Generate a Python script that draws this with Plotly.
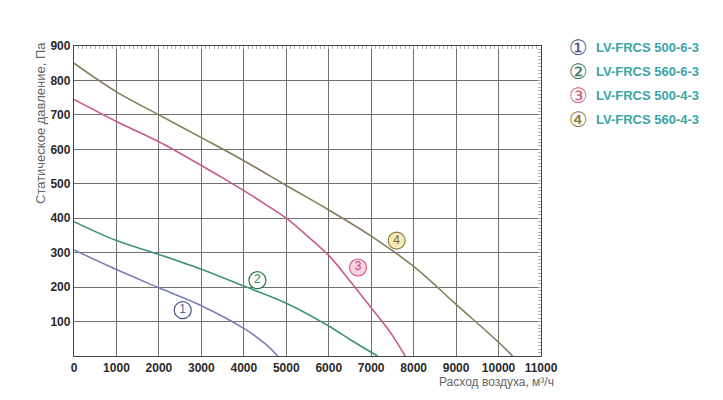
import plotly.graph_objects as go

# ---- data ----
names = ["LV-FRCS 500-6-3", "LV-FRCS 560-6-3", "LV-FRCS 500-4-3", "LV-FRCS 560-4-3"]
digits = ["1", "2", "3", "4"]
circled = ["①", "②", "③", "④"]

x1 = [0, 1000, 2000, 3000, 4000, 4500, 4800]
y1 = [308, 251, 198, 146, 80, 36, 0]
x2 = [0, 1000, 2000, 3000, 4000, 5000, 6000, 6500, 7150]
y2 = [390, 335, 295, 252, 203, 153, 87, 48, 0]
x3 = [0, 1000, 2000, 3000, 3500, 4000, 4500, 5000, 5500, 6000, 6500, 7000, 7500, 7800]
y3 = [745, 681, 622, 553, 517, 480, 441, 400, 348, 292, 218, 140, 60, 0]
x4 = [0, 1000, 2000, 3000, 4000, 5000, 6000, 7000, 8000, 9000, 10000, 10330]
y4 = [850, 767, 700, 634, 567, 495, 424, 348, 260, 150, 40, 0]

label_x = [2560, 4320, 6690, 7600]
label_y = [133, 220, 257, 335]

x_ticks = list(range(0, 11001, 1000))
y_ticks = list(range(100, 901, 100))

line_colors = ["#7a7db8", "#3f9474", "#c95a85", "#857c5e"]
circle_line = ["#4a5288", "#2f7a56", "#d0607e", "#8a7a40"]
circle_fill = ["#ffffff", "#ffffff", "#f8d4e0", "#f6ebb8"]
digit_colors = ["#5a66a8", "#2f8a5e", "#c83e70", "#7a6a30"]

xs = [x1, x2, x3, x4]
ys = [y1, y2, y3, y4]

fig = go.Figure()
for i in range(4):
    fig.add_trace(go.Scatter(
        x=xs[i], y=ys[i], mode="lines",
        line=dict(color=line_colors[i], width=1.6, shape="spline", smoothing=1.0),
        name=names[i], showlegend=False, hoverinfo="skip"))

for i in range(4):
    fig.add_trace(go.Scatter(
        x=[label_x[i]], y=[label_y[i]], mode="markers+text",
        marker=dict(size=17, color=circle_fill[i], line=dict(color=circle_line[i], width=1.2)),
        text=[digits[i]], textposition="middle center",
        textfont=dict(family="Liberation Sans, Arial", size=12, color=digit_colors[i]),
        showlegend=False, hoverinfo="skip"))

# minor ticks on top / right borders
fig.add_trace(go.Scatter(x=[0, 11000], y=[0, 900], xaxis="x2", yaxis="y2",
                         mode="markers", marker=dict(opacity=0), showlegend=False, hoverinfo="skip"))

# page body has an 8px margin, so the figure is placed at (8, 8)
W, H = 715, 392
L, T = 66, 38
R = W - 533
B = H - 348.5
PW = 533 - L
PH = 348.5 - T

tick_font = dict(size=12, color="#2a2a2a", family="Liberation Sans, Arial", weight="bold")

fig.update_layout(
    width=W, height=H,
    margin=dict(l=L, r=R, t=T, b=B),
    paper_bgcolor="white", plot_bgcolor="white",
    font=dict(family="Liberation Sans, Arial, sans-serif", color="#333333"),
    xaxis=dict(range=[0, 11000], tickvals=x_ticks, ticktext=[str(v) for v in x_ticks],
               showgrid=True, gridcolor="#707070", gridwidth=1,
               showline=True, linecolor="#444444", linewidth=1.3, mirror=True,
               ticks="", zeroline=False, tickfont=tick_font, fixedrange=True),
    yaxis=dict(range=[0, 900], tickvals=y_ticks, ticktext=[str(v) for v in y_ticks],
               showgrid=True, gridcolor="#707070", gridwidth=1,
               showline=True, linecolor="#444444", linewidth=1.3, mirror=True,
               ticks="", zeroline=False, tickfont=tick_font, fixedrange=True),
    xaxis2=dict(range=[0, 11000], overlaying="x", side="top", showticklabels=False,
                showgrid=False, zeroline=False, ticks="inside", ticklen=3, tickcolor="#b0b0b0",
                dtick=100, tick0=0, fixedrange=True),
    yaxis2=dict(range=[0, 900], overlaying="y", side="right", showticklabels=False,
                showgrid=False, zeroline=False, ticks="inside", ticklen=3, tickcolor="#b0b0b0",
                dtick=10, tick0=0, fixedrange=True),
)

annotations = []
# y-axis title
annotations.append(dict(text="Статическое давление, Па", xref="paper", yref="paper",
                        x=(40 - 8 - L) / PW, y=1 + (44 - 38) / PH, xanchor="center", yanchor="top",
                        textangle=-90, showarrow=False,
                        font=dict(size=13, color="#666666")))
# x-axis title
annotations.append(dict(text="Расход воздуха, м³/ч", xref="paper", yref="paper",
                        x=(556 - 8 - L) / PW, y=-(383 - 8 - 348.5) / PH,
                        xanchor="right", yanchor="middle",
                        showarrow=False, font=dict(size=12, color="#666666")))
# legend
leg_y = [48, 72, 96, 120]
for i in range(4):
    py = (348.5 - (leg_y[i] - 8)) / PH
    annotations.append(dict(text=circled[i], xref="paper", yref="paper",
                            x=(578 - 8 - L) / PW, y=py, xanchor="center", yanchor="middle",
                            showarrow=False,
                            font=dict(size=21, color=circle_line[i], family="DejaVu Sans")))
    annotations.append(dict(text="<b>" + names[i] + "</b>", xref="paper", yref="paper",
                            x=(594 - 8 - L) / PW, y=py, xanchor="left", yanchor="middle",
                            showarrow=False,
                            font=dict(size=13, color="#3aa5a8", family="Liberation Sans, Arial")))
fig.update_layout(annotations=annotations)

fig.write_html("out.html")
